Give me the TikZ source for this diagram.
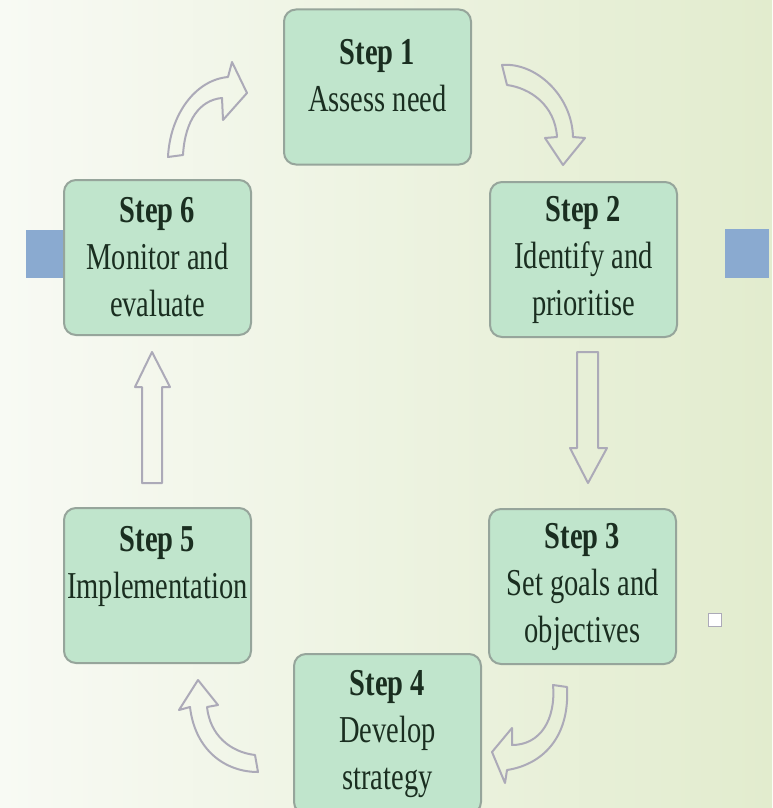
\documentclass[tikz,border=0pt]{standalone}
\usepackage{fontspec}
\setmainfont{Liberation Serif}[FakeStretch=0.75]
\usepackage{xcolor}
\usepackage{tikz}
\definecolor{bgleft}{RGB}{248,250,244}
\definecolor{bgright}{RGB}{226,236,206}
\definecolor{boxfill}{RGB}{192,229,204}
\definecolor{boxline}{RGB}{150,165,155}
\definecolor{steptext}{RGB}{26,46,32}
\definecolor{tabblue}{RGB}{138,170,208}
\definecolor{arrowline}{RGB}{172,170,184}
\tikzset{
  stepbox/.style={rectangle,rounded corners=12pt,draw=boxline,line width=2pt,
    fill=boxfill,minimum width=187pt,minimum height=155pt,inner sep=0pt,
    align=center,text=steptext,font=\fontsize{38}{47}\selectfont},
  tab/.style={rectangle,fill=tabblue,inner sep=0pt},
  hollowarrow/.style={draw=arrowline,line width=2pt,line join=round},
  tinymark/.style={rectangle,draw=arrowline,line width=1.5pt,fill=white,
    minimum size=13pt,inner sep=0pt}
}

\begin{document}
\begin{tikzpicture}[x=1pt,y=-1pt]
  \useasboundingbox (0,0) rectangle (772,808);
  \clip (0,0) rectangle (772,808);
  \shade[left color=bgleft,right color=bgright] (0,0) rectangle (772,808);

  \node[tab,minimum width=39pt,minimum height=48pt] (tabL) at (45.5,254) {};
  \node[tab,minimum width=44pt,minimum height=49pt] (tabR) at (747,253.5) {};

  \node[stepbox] (st1) at (377.5,87)  {\textbf{Step 1}\\Assess need\\[-24pt]\mbox{}};
  \node[stepbox] (st2) at (583.5,259.5) {\textbf{Step 2}\\Identify and\\prioritise};
  \node[stepbox] (st3) at (582.5,586.5) {\textbf{Step 3}\\Set goals and\\objectives};
  \node[stepbox,minimum height=160pt] (st4) at (387.5,734) {\textbf{Step 4}\\Develop\\strategy};
  \node[stepbox] (st5) at (157.5,585.5) {\textbf{Step 5}\\Implementation\\\mbox{}};
  \node[stepbox] (st6) at (157.5,257.5) {\textbf{Step 6}\\Monitor and\\evaluate};

  \node[tinymark] (mark) at (715,620) {};

  % step 6 -> step 1
  \draw[hollowarrow] (168,157) .. controls (170,115) and (195,80) .. (228,77)
    -- (232,62) -- (247,93) -- (223,120) -- (222,98)
    .. controls (200,100) and (185,120) .. (183,155) -- cycle;
  % step 1 -> step 2
  \draw[hollowarrow] (502,65) .. controls (535,62) and (572,95) .. (573,137)
    -- (585,138) -- (563,165) -- (545,138) -- (557,137)
    .. controls (555,105) and (530,88) .. (507,85) -- cycle;
  % step 2 -> step 3
  \draw[hollowarrow] (577,352) -- (598,352) -- (598,448) -- (607,448)
    -- (588,483) -- (570,448) -- (577,448) -- cycle;
  % step 3 -> step 4
  \draw[hollowarrow] (567,687) .. controls (570,740) and (540,765) .. (507,770)
    -- (505,783) -- (492,752) -- (512,728) -- (512,745)
    .. controls (540,745) and (556,720) .. (553,685) -- cycle;
  % step 4 -> step 5
  \draw[hollowarrow] (258,772) .. controls (225,772) and (195,750) .. (190,707)
    -- (179,710) -- (198,680) -- (218,705) -- (207,707)
    .. controls (210,735) and (230,752) .. (255,755) -- cycle;
  % step 5 -> step 6
  \draw[hollowarrow] (142,483) -- (162,483) -- (162,387) -- (170,387)
    -- (152,352) -- (135,387) -- (142,387) -- cycle;
\end{tikzpicture}
\end{document}
